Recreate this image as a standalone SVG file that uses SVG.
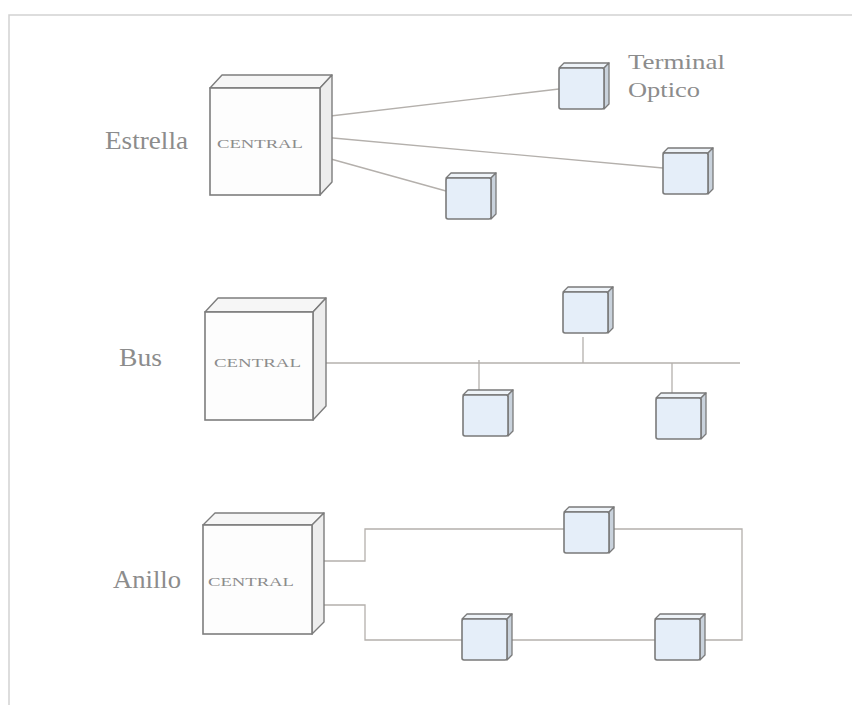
<svg xmlns="http://www.w3.org/2000/svg" xmlns:xlink="http://www.w3.org/1999/xlink" width="852" height="705" viewBox="0 0 852 705">
<style>
  .frame { stroke: #d2d2d2; stroke-width: 1.5; fill: none; }
  .front { fill: #fdfdfd; stroke: #7d7d7d; stroke-width: 1.6; }
  .top { fill: #f6f6f6; stroke: #7d7d7d; stroke-width: 1.4; stroke-linejoin: round; }
  .side { fill: #ededed; stroke: #7d7d7d; stroke-width: 1.4; stroke-linejoin: round; }
  .tfront { fill: #e5eef9; stroke: #7a7a7a; stroke-width: 1.6; }
  .ttop { fill: #eef3f8; stroke: #7a7a7a; stroke-width: 1.3; stroke-linejoin: round; }
  .tside { fill: #c9d2dc; stroke: #7a7a7a; stroke-width: 1.3; stroke-linejoin: round; }
  .wire { stroke: #b4b0ac; stroke-width: 1.3; fill: none; }
  .label { font-family: "Liberation Serif", "Times New Roman", serif; font-size: 26px; fill: #8c8c8c; }
  .small { font-size: 22px; }
  .central { font-family: "Liberation Serif", "Times New Roman", serif; font-size: 13px; fill: #8c8c8c; }
</style>
<defs>
  <symbol id="term" overflow="visible">
    <path class="ttop" d="M0,5 L5,0 L50,0 L45,5 Z"/>
    <path class="tside" d="M45,5 L50,0 L50,41 L45,46 Z"/>
    <rect class="tfront" x="0" y="5" width="45" height="41" rx="2"/>
  </symbol>
</defs>
<rect width="852" height="705" fill="#ffffff"/>
<path class="frame" d="M9,705 L9,15 L852,15"/>

<g id="connectors">
  <!-- Estrella -->
  <line class="wire" x1="322" y1="117" x2="559" y2="89"/>
  <line class="wire" x1="322" y1="137" x2="663" y2="168"/>
  <line class="wire" x1="320" y1="156" x2="446" y2="191"/>
  <!-- Bus -->
  <line class="wire" x1="313" y1="363" x2="740" y2="363"/>
  <line class="wire" x1="583" y1="337" x2="583" y2="363"/>
  <line class="wire" x1="479" y1="360" x2="479" y2="395"/>
  <line class="wire" x1="672" y1="363" x2="672" y2="398"/>
  <!-- Anillo -->
  <polyline class="wire" points="312,561 365,561 365,529 564,529"/>
  <polyline class="wire" points="612,529 742,529 742,640 704,640"/>
  <line class="wire" x1="655" y1="640" x2="512" y2="640"/>
  <polyline class="wire" points="462,640 365,640 365,605 312,605"/>
</g>

<!-- Estrella -->
<text id="lbl-estrella" class="label" x="105" y="149" textLength="83" lengthAdjust="spacingAndGlyphs">Estrella</text>
<g id="central-estrella">
  <path class="top" d="M210,88 L222,75 L332,75 L320,88 Z"/>
  <path class="side" d="M320,88 L332,75 L332,182 L320,195 Z"/>
  <rect class="front" x="210" y="88" width="110" height="107"/>
  <text class="central" x="217" y="148" textLength="86" lengthAdjust="spacingAndGlyphs">CENTRAL</text>
</g>
<g id="term-estrella-1"><use xlink:href="#term" href="#term" x="559" y="63"/></g>
<g id="term-estrella-2"><use xlink:href="#term" href="#term" x="663" y="148"/></g>
<g id="term-estrella-3"><use xlink:href="#term" href="#term" x="446" y="173"/></g>
<g id="lbl-terminal">
  <text class="label small" x="628" y="69" textLength="97" lengthAdjust="spacingAndGlyphs">Terminal</text>
  <text class="label small" x="628" y="97" textLength="72" lengthAdjust="spacingAndGlyphs">Optico</text>
</g>

<!-- Bus -->
<text id="lbl-bus" class="label" x="119" y="366" textLength="43" lengthAdjust="spacingAndGlyphs">Bus</text>
<g id="central-bus">
  <path class="top" d="M205,312 L218,298 L326,298 L313,312 Z"/>
  <path class="side" d="M313,312 L326,298 L326,406 L313,420 Z"/>
  <rect class="front" x="205" y="312" width="108" height="108"/>
  <text class="central" x="214" y="367" textLength="87" lengthAdjust="spacingAndGlyphs">CENTRAL</text>
</g>
<g id="term-bus-1"><use xlink:href="#term" href="#term" x="563" y="287"/></g>
<g id="term-bus-2"><use xlink:href="#term" href="#term" x="463" y="390"/></g>
<g id="term-bus-3"><use xlink:href="#term" href="#term" x="656" y="393"/></g>

<!-- Anillo -->
<text id="lbl-anillo" class="label" x="113" y="588" textLength="68" lengthAdjust="spacingAndGlyphs">Anillo</text>
<g id="central-anillo">
  <path class="top" d="M203,525 L215,513 L324,513 L312,525 Z"/>
  <path class="side" d="M312,525 L324,513 L324,622 L312,634 Z"/>
  <rect class="front" x="203" y="525" width="109" height="109"/>
  <text class="central" x="208" y="586" textLength="86" lengthAdjust="spacingAndGlyphs">CENTRAL</text>
</g>
<g id="term-anillo-1"><use xlink:href="#term" href="#term" x="564" y="507"/></g>
<g id="term-anillo-2"><use xlink:href="#term" href="#term" x="462" y="614"/></g>
<g id="term-anillo-3"><use xlink:href="#term" href="#term" x="655" y="614"/></g>
</svg>
